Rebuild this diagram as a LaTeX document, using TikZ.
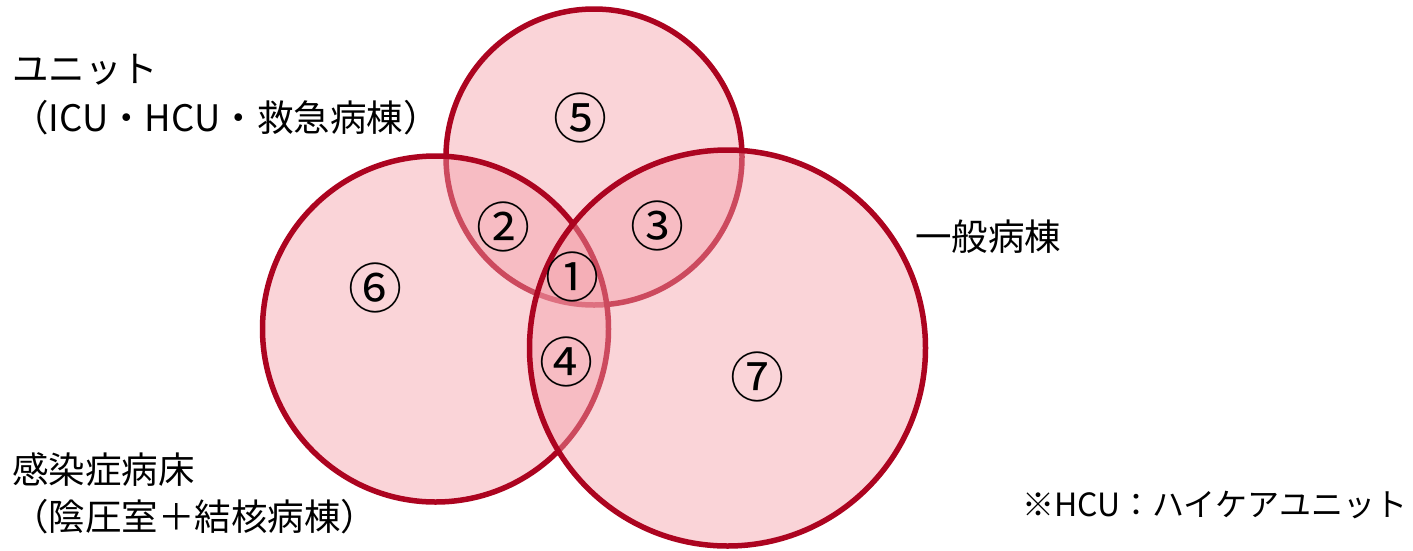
\documentclass[tikz,border=0pt]{standalone}
\usepackage{fontspec}
\setmainfont{Noto Sans CJK JP}
\definecolor{ringred}{RGB}{172,4,32}
\definecolor{ringfill}{RGB}{244,160,170}
\begin{document}
\begin{tikzpicture}[x=1pt,y=-1pt,
  ring/.style={draw=ringred,line width=5.5pt,fill=ringfill,fill opacity=0.45,draw opacity=1},
  num/.style={font=\fontsize{54}{54}\selectfont,inner sep=0pt},
  lbl/.style={font=\fontsize{36.5}{46}\selectfont,inner sep=0pt,anchor=west,align=left}]
\useasboundingbox (0,0) rectangle (1413,550);
\fill[white] (0,0) rectangle (1413,550);
\path[ring] (594,157) circle (148) coordinate (top);
\path[ring] (435.5,329) circle (173) coordinate (left);
\path[ring] (727.5,348) circle (198) coordinate (right);
\node[num] (n5) at (580,118) {⑤};
\node[num] (n2) at (503,227) {②};
\node[num] (n3) at (657,226) {③};
\node[num] (n1) at (572,277) {①};
\node[num] (n6) at (375,288) {⑥};
\node[num] (n4) at (566,362) {④};
\node[num] (n7) at (757,377) {⑦};
\node[lbl] (unit1) at (12,70) {ユニット};
\node[lbl] (unit2) at (12,118) {（ICU・HCU・救急病棟）};
\node[lbl] (gen) at (915,237) {一般病棟};
\node[lbl] (inf1) at (12,470) {感染症病床};
\node[lbl] (inf2) at (12,517) {（陰圧室＋結核病棟）};
\node[lbl,font=\fontsize{32}{36}\selectfont] (note) at (1022,505) {※HCU：ハイケアユニット};
\end{tikzpicture}
\end{document}
